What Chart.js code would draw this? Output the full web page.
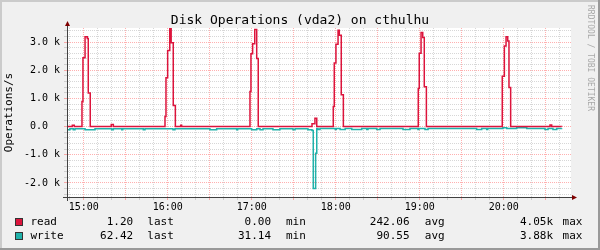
<!DOCTYPE html>
<html>
<head>
<meta charset="utf-8">
<title>Disk Operations (vda2) on cthulhu</title>
<script src="https://cdn.jsdelivr.net/npm/chart.js@4.4.1/dist/chart.umd.min.js"></script>
<style>
  html, body { margin: 0; padding: 0; background: #f0f0f0; }
  canvas { display: block; }
</style>
</head>
<body>
<canvas id="myChart" width="600" height="250"></canvas>
<script>
// times are minutes after midnight, values in operations/s
// each value holds until the next time (stepped line)
const readTimes = [888, 891.8, 893.2, 898.7, 899.4, 900.9, 902.5, 903.2, 904.6, 919.6, 921.1,
    958.0, 958.7, 959.9, 961.4, 962.4, 963.9, 965.4, 969.2, 969.9,
    1018.7, 1019.4, 1020.6, 1022.1, 1023.5, 1024.6,
    1063.0, 1065.1, 1066.4,
    1078.2, 1078.9, 1080.1, 1081.6, 1082.5, 1083.9, 1085.4,
    1138.9, 1139.6, 1140.9, 1142.1, 1143.2, 1144.7,
    1198.9, 1200.4, 1201.6, 1202.8, 1203.7, 1204.9,
    1233.0, 1234.2, 1241.3];
const readValues = [5, 50, 5, 890, 2440, 3190, 3130, 1190, 5, 70, 5,
    360, 1730, 2700, 3490, 2980, 750, 5, 50, 5,
    1250, 2590, 2940, 3450, 2420, 5,
    100, 300, 5,
    710, 2260, 2920, 3420, 3240, 1130, 5,
    1350, 2600, 3340, 3160, 1410, 5,
    1790, 2860, 3190, 3040, 1390, 5,
    60, 5, 1.2];

// write is drawn below zero (negated)
const writeTimes = [888, 890.1, 892.5, 893.7, 900.9, 908.0, 919.9, 921.1, 927.1, 927.8, 942.5, 943.7,
    963.7, 965.1, 990.1, 994.9, 1009.2, 1009.9, 1019.9, 1023.5, 1025.9, 1028.0, 1035.1, 1040.1,
    1049.4, 1050.9, 1060.1, 1063.0, 1063.9, 1065.6, 1066.4, 1067.3, 1068.7, 1079.6, 1080.3,
    1083.1, 1086.7, 1091.4, 1098.5, 1102.1, 1103.0, 1109.2, 1111.6, 1128.0, 1133.0, 1138.7,
    1139.4, 1143.7, 1145.9, 1180.6, 1184.2, 1187.8, 1188.5, 1199.4, 1202.1, 1209.2, 1216.4,
    1229.4, 1231.6, 1235.1, 1237.8, 1241.3];
const writeValues = [-110, -80, -110, -80, -110, -80, -110, -80, -110, -80, -110, -80, -110, -80,
    -110, -80, -110, -80, -110, -80, -110, -80, -110, -80, -110, -80,
    -110, -140, -2200, -950, -65,
    -100, -65, -100, -65, -100, -65, -100, -65, -100, -65, -100, -65, -100, -65, -100, -65,
    -100, -65, -100, -65, -100, -65,
    -45, -65, -45, -65, -100, -65, -100, -65, -62];

const xTickValues = [900, 960, 1020, 1080, 1140, 1200];
const xTickLabels = ['15:00', '16:00', '17:00', '18:00', '19:00', '20:00'];
const yTickValues = [-2000, -1000, 0, 1000, 2000, 3000];
const yTickLabels = ['-2.0 k', '-1.0 k', '0.0  ', '1.0 k', '2.0 k', '3.0 k'];

// legend (GPRINT lines)
const seriesNames = ['read', 'write'];
const seriesColors = ['#dc143c', '#20b2aa'];
const lastValues = ['1.20', '62.42'];
const minValues = ['0.00', '31.14'];
const avgValues = ['242.06', '90.55'];
const maxValues = ['4.05k', '3.88k'];

const mono = '"DejaVu Sans Mono", "Liberation Mono", monospace';
const majorGrid = 'rgba(255, 80, 80, 0.45)';
const minorGrid = 'rgba(140, 140, 140, 0.35)';
const axisColor = '#404040';
const arrowColor = '#7f0000';

function points(times, values) {
    return times.map((t, i) => ({ x: t, y: values[i] }));
}

const rrdDecor = {
    id: 'rrdDecor',
    beforeDraw(chart) {
        const c = chart.ctx;
        const a = chart.chartArea;
        c.save();
        c.fillStyle = '#f0f0f0';
        c.fillRect(0, 0, chart.width, chart.height);
        c.fillStyle = '#cbcbcb';
        c.fillRect(0, 0, chart.width, 2);
        c.fillRect(0, 0, 2, chart.height);
        c.fillStyle = '#999999';
        c.fillRect(0, chart.height - 2, chart.width, 2);
        c.fillRect(chart.width - 2, 0, 2, chart.height);
        c.fillStyle = '#ffffff';
        c.fillRect(a.left, a.top, a.right - a.left, a.bottom - a.top);
        c.restore();
    },
    afterDraw(chart) {
        const c = chart.ctx;
        const a = chart.chartArea;
        c.save();

        // axis extensions and arrows
        c.strokeStyle = axisColor;
        c.lineWidth = 1;
        c.beginPath();
        c.moveTo(a.left - 4, a.bottom + 0.5);
        c.lineTo(a.right + 2, a.bottom + 0.5);
        c.moveTo(a.left + 0.5, a.bottom + 4);
        c.lineTo(a.left + 0.5, a.top - 3);
        c.stroke();
        c.fillStyle = arrowColor;
        c.beginPath();
        c.moveTo(a.left - 2, a.top - 2);
        c.lineTo(a.left + 3, a.top - 2);
        c.lineTo(a.left + 0.5, a.top - 7);
        c.closePath();
        c.fill();
        c.beginPath();
        c.moveTo(a.right + 1, a.bottom - 2);
        c.lineTo(a.right + 1, a.bottom + 3);
        c.lineTo(a.right + 6, a.bottom + 0.5);
        c.closePath();
        c.fill();

        // title
        c.fillStyle = '#000';
        c.font = '13px ' + mono;
        c.textAlign = 'center';
        c.textBaseline = 'alphabetic';
        c.fillText('Disk Operations (vda2) on cthulhu', 300, 23.5);

        // legend
        c.font = '11px ' + mono;
        c.textBaseline = 'middle';
        const rows = [222, 236];
        seriesNames.forEach((name, i) => {
            const y = rows[i];
            c.fillStyle = seriesColors[i];
            c.fillRect(15, y - 4, 8, 8);
            c.strokeStyle = '#333';
            c.strokeRect(15.5, y - 3.5, 7, 7);
            c.fillStyle = '#000';
            c.textAlign = 'left';
            c.fillText(name, 30.5, y);
            c.fillText('last', 147.3, y);
            c.fillText('min', 286, y);
            c.fillText('avg', 424.8, y);
            c.fillText('max', 562.6, y);
            c.textAlign = 'right';
            c.fillText(lastValues[i], 133.2, y);
            c.fillText(minValues[i], 271, y);
            c.fillText(avgValues[i], 409.5, y);
            c.fillText(maxValues[i], 553, y);
        });

        // watermark
        c.translate(588, 5);
        c.rotate(Math.PI / 2);
        c.font = '8px ' + mono;
        c.fillStyle = '#a8a8a8';
        c.textAlign = 'left';
        c.textBaseline = 'alphabetic';
        c.fillText('RRDTOOL / TOBI OETIKER', 0, 0);
        c.restore();
    }
};

const ctx = document.getElementById('myChart').getContext('2d');
const myChart = new Chart(ctx, {
    type: 'line',
    data: {
        datasets: [{
            label: 'read',
            data: points(readTimes, readValues),
            borderColor: seriesColors[0],
            borderWidth: 1.5,
            stepped: true,
            pointRadius: 0,
            fill: false
        }, {
            label: 'write',
            data: points(writeTimes, writeValues),
            borderColor: seriesColors[1],
            borderWidth: 1.5,
            stepped: true,
            pointRadius: 0,
            fill: false
        }]
    },
    options: {
        responsive: false,
        animation: false,
        devicePixelRatio: 1,
        layout: { padding: { top: 28, right: 29, left: 0, bottom: 0 } },
        plugins: {
            legend: { display: false },
            title: { display: false },
            tooltip: { enabled: false }
        },
        scales: {
            x: {
                type: 'linear',
                min: 888,
                max: 1248,
                afterBuildTicks: scale => {
                    const ticks = [];
                    for (let v = 890; v < 1248; v += 10) ticks.push({ value: v });
                    scale.ticks = ticks;
                },
                afterFit: scale => { scale.height = 53; },
                ticks: {
                    autoSkip: false,
                    maxRotation: 0,
                    padding: 1,
                    color: '#000',
                    font: { family: mono, size: 10 },
                    callback: v => {
                        const i = xTickValues.indexOf(v);
                        return i < 0 ? '' : xTickLabels[i];
                    }
                },
                grid: {
                    color: c => (c.tick && c.tick.value % 30 === 0) ? majorGrid : minorGrid,
                    tickColor: c => (c.tick && c.tick.value % 30 === 0) ? majorGrid : minorGrid,
                    tickLength: 3
                },
                border: { color: axisColor, width: 1, dash: [1, 1] }
            },
            y: {
                min: -2500,
                max: 3500,
                afterBuildTicks: scale => {
                    const ticks = [];
                    for (let v = -2400; v <= 3400; v += 200) ticks.push({ value: v });
                    scale.ticks = ticks;
                },
                afterFit: scale => { scale.width = 67; },
                ticks: {
                    autoSkip: false,
                    padding: 4,
                    color: '#000',
                    font: { family: mono, size: 10 },
                    callback: v => {
                        const i = yTickValues.indexOf(v);
                        return i < 0 ? '' : yTickLabels[i];
                    }
                },
                grid: {
                    color: c => (c.tick && c.tick.value % 1000 === 0) ? majorGrid : minorGrid,
                    tickColor: c => (c.tick && c.tick.value % 1000 === 0) ? majorGrid : minorGrid,
                    tickLength: 3
                },
                border: { color: axisColor, width: 1, dash: [1, 1] },
                title: {
                    display: true,
                    text: 'Operations/s',
                    color: '#000',
                    font: { family: mono, size: 11 },
                    padding: { top: 3, bottom: 0 }
                }
            }
        }
    },
    plugins: [rrdDecor]
});
</script>
</body>
</html>
